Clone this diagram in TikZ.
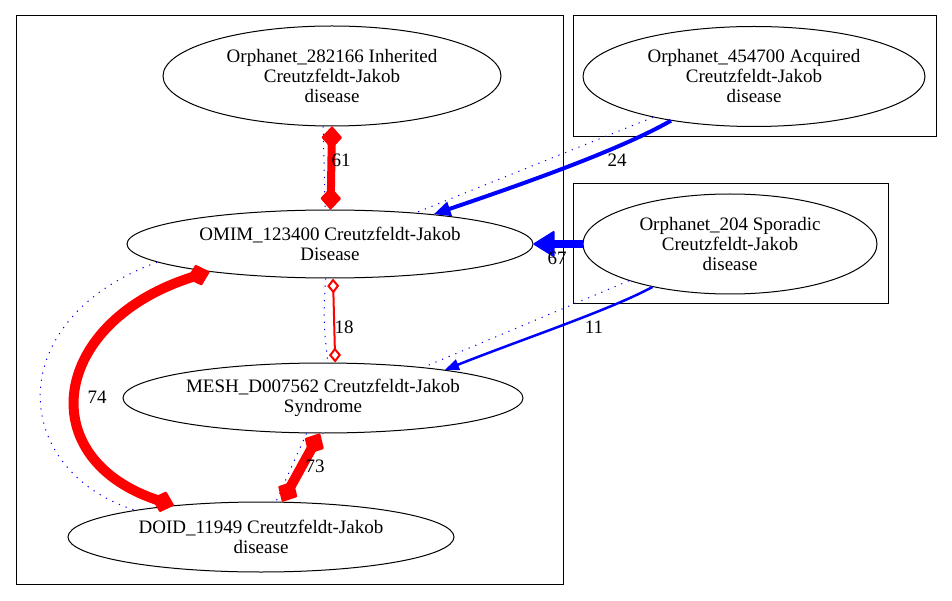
\documentclass[tikz,border=0pt]{standalone}
\usepackage{fontspec}
\setmainfont{Liberation Serif}
\usetikzlibrary{shapes.geometric,arrows.meta}
\begin{document}
\begin{tikzpicture}[x=1pt,y=-1pt,
  ell/.style={draw,ellipse,inner sep=0pt,align=center,font=\fontsize{19}{20}\selectfont,line width=1pt},
  lbl/.style={font=\fontsize{19}{20}\selectfont,inner sep=0pt},
  clus/.style={draw,line width=1pt},
  dotb/.style={blue,line width=1pt,dash pattern=on 1.2pt off 6pt},
  redfat/.style={red,line width=10pt,{Diamond[length=24pt,width=22pt,round,line width=2pt]}-{Diamond[length=24pt,width=22pt,round,line width=2pt]}},
  redmid/.style={red,line width=8pt,{Diamond[length=23pt,width=21pt,round,line width=2pt]}-{Diamond[length=23pt,width=21pt,round,line width=2pt]}},
  redthin/.style={red,line width=2pt,{Diamond[open,length=15pt,width=12pt]}-{Diamond[open,length=15pt,width=12pt]}}
]
\useasboundingbox (0,0) rectangle (952,601);
\draw[clus] (16,16) rectangle (563,584);
\draw[clus] (573,16) rectangle (936,137);
\draw[clus] (573,184) rectangle (888,304);

\node[ell,minimum width=338pt,minimum height=100pt] (A) at (332,76) {Orphanet\_282166 Inherited\\Creutzfeldt-Jakob\\disease};
\node[ell,minimum width=342pt,minimum height=100pt] (B) at (754,76.5) {Orphanet\_454700 Acquired\\Creutzfeldt-Jakob\\disease};
\node[ell,minimum width=406pt,minimum height=68pt] (C) at (330,244) {OMIM\_123400 Creutzfeldt-Jakob\\Disease};
\node[ell,minimum width=294pt,minimum height=100pt] (D) at (730,244) {Orphanet\_204 Sporadic\\Creutzfeldt-Jakob\\disease};
\node[ell,minimum width=400pt,minimum height=70pt] (E) at (323,398) {MESH\_D007562 Creutzfeldt-Jakob\\Syndrome};
\node[ell,minimum width=386pt,minimum height=70pt] (F) at (261,537) {DOID\_11949 Creutzfeldt-Jakob\\disease};

% dotted blue edges
\draw[dotb] (A.260) -- (C.98);
\draw[dotb] (C.263) to[bend right=6] (E.82);
\draw[dotb] (C.186) .. controls (0,320) and (10,470) .. (F.168);
\draw[dotb] (E.245) -- (F.67);
\draw[dotb] (B.202) -- (C.20.5);
\draw[dotb] (D.200.5) -- (E.17.5);

% red edges
\draw[redmid] (A.-90) -- (C.89);
\draw[redthin] (C.-85) -- (E.71);
\draw[redfat] (C.193.6) .. controls (50,320) and (30,460) .. (F.160);
\draw[redfat] (E.265) -- (F.59);

% blue edges
\draw[blue,line width=4pt,-{Triangle[length=17pt,width=14pt]}] (B.208.6) .. controls (620,150) and (520,185) .. (C.16);
\draw[blue,line width=8pt,-{Triangle[length=22pt,width=27pt,round,line width=2pt]}] (D.west) -- (C.east);
\draw[blue,line width=2.5pt,-{Triangle[length=14pt,width=11pt]}] (D.209) .. controls (610,310) and (520,340) .. (E.13);

% labels
\node[lbl] (l61) at (341,160) {61};
\node[lbl] (l18) at (344,327) {18};
\node[lbl] (l74) at (97,397) {74};
\node[lbl] (l73) at (315,466) {73};
\node[lbl] (l24) at (617,160) {24};
\node[lbl] (l67) at (557,258) {67};
\node[lbl] (l11) at (594,327) {11};
\end{tikzpicture}
\end{document}
